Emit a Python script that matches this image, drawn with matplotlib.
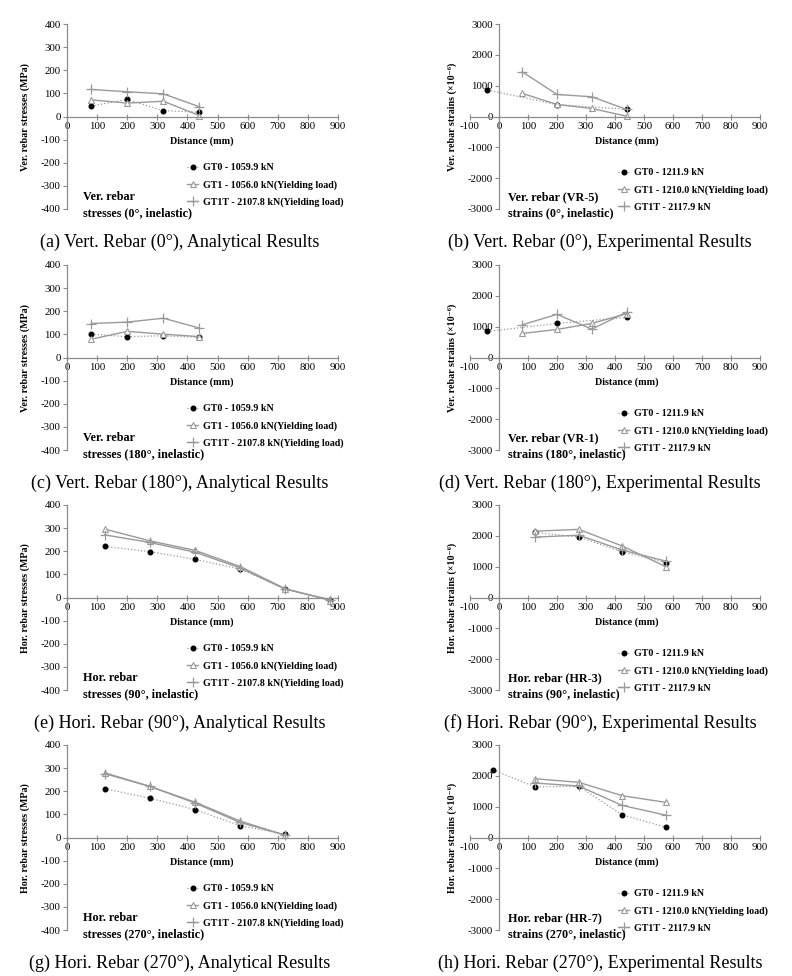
import matplotlib
matplotlib.use('Agg')
import matplotlib.pyplot as plt

plt.rcParams['font.family'] = ['Liberation Serif', 'DejaVu Serif']
plt.rcParams['axes.unicode_minus'] = False

W, H = 792, 976

# ── Data ──────────────────────────────────────────────────────────────────────
# gauge positions along the wall (mm)
vert_x = [80, 200, 320, 440]
hor_x = [125, 275, 425, 575, 725, 875]

# (a) vertical rebar 0°, analytical stresses (MPa)
a_gt0 = [45, 74, 25, 19]
a_gt1 = [72, 58, 66, 4]
a_gt1t = [117, 107, 98, 42]

# (b) vertical rebar VR-5, measured strains (x10^-6)
b_gt0_x = [-40, 200, 440]
b_gt0 = [860, 385, 235]
b_gt1 = [750, 390, 260, 10]
b_gt1t = [1450, 715, 640, 230]

# (c) vertical rebar 180°, analytical stresses (MPa)
c_gt0 = [101, 90, 94, 87]
c_gt1 = [79, 113, 101, 90]
c_gt1t = [147, 153, 170, 127]

# (d) vertical rebar VR-1, measured strains
d_gt0_x = [-40, 200, 440]
d_gt0 = [845, 1105, 1300]
d_gt1 = [780, 910, 1105, 1420]
d_gt1t = [1060, 1400, 920, 1470]

# (e) horizontal rebar 90°, analytical stresses (MPa)
e_gt0 = [221, 198, 165, 123, 36, -9]
e_gt1 = [296, 245, 204, 134, 38, -13]
e_gt1t = [271, 238, 196, 128, 36, -10]

# (f) horizontal rebar HR-3, measured strains
f_x = [125, 275, 425, 575]
f_gt0 = [2110, 1960, 1485, 1130]
f_gt1 = [2150, 2210, 1670, 1000]
f_gt1t = [1960, 2020, 1540, 1180]

# (g) horizontal rebar 270°, analytical stresses (MPa)
g_x = [125, 275, 425, 575, 725]
g_gt0 = [211, 170, 121, 51, 14]
g_gt1 = [280, 221, 153, 71, 10]
g_gt1t = [276, 221, 149, 65, 10]

# (h) horizontal rebar HR-7, measured strains
h_gt0_x = [-20, 125, 275, 425, 575]
h_gt0 = [2190, 1640, 1660, 735, 335]
h_x = [125, 275, 425, 575]
h_gt1 = [1905, 1790, 1355, 1140]
h_gt1t = [1765, 1670, 1040, 725]

ana_labels = ['GT0 - 1059.9 kN', 'GT1 - 1056.0 kN(Yielding load)',
              'GT1T - 2107.8 kN(Yielding load)']
exp_labels = ['GT0 - 1211.9 kN', 'GT1 - 1210.0 kN(Yielding load)',
              'GT1T - 2117.9 kN']

panels = [
    # (col, row, gt0 x, gt0, gt1 x, gt1, gt1t x, gt1t, ylabel, note, caption)
    (0, 0, vert_x, a_gt0, vert_x, a_gt1, vert_x, a_gt1t,
     'Ver. rebar stresses (MPa)', 'Ver. rebar\nstresses (0°, inelastic)',
     '(a) Vert. Rebar (0°), Analytical Results'),
    (1, 0, b_gt0_x, b_gt0, vert_x, b_gt1, vert_x, b_gt1t,
     'Ver. rebar strains (×10⁻⁶)', 'Ver. rebar (VR-5)\nstrains (0°, inelastic)',
     '(b) Vert. Rebar (0°), Experimental Results'),
    (0, 1, vert_x, c_gt0, vert_x, c_gt1, vert_x, c_gt1t,
     'Ver. rebar stresses (MPa)', 'Ver. rebar\nstresses (180°, inelastic)',
     '(c) Vert. Rebar (180°), Analytical Results'),
    (1, 1, d_gt0_x, d_gt0, vert_x, d_gt1, vert_x, d_gt1t,
     'Ver. rebar strains (×10⁻⁶)', 'Ver. rebar (VR-1)\nstrains (180°, inelastic)',
     '(d) Vert. Rebar (180°), Experimental Results'),
    (0, 2, hor_x, e_gt0, hor_x, e_gt1, hor_x, e_gt1t,
     'Hor. rebar stresses (MPa)', 'Hor. rebar\nstresses (90°, inelastic)',
     '(e) Hori. Rebar (90°), Analytical Results'),
    (1, 2, f_x, f_gt0, f_x, f_gt1, f_x, f_gt1t,
     'Hor. rebar strains (×10⁻⁶)', 'Hor. rebar (HR-3)\nstrains (90°, inelastic)',
     '(f) Hori. Rebar (90°), Experimental Results'),
    (0, 3, g_x, g_gt0, g_x, g_gt1, g_x, g_gt1t,
     'Hor. rebar stresses (MPa)', 'Hor. rebar\nstresses (270°, inelastic)',
     '(g) Hori. Rebar (270°), Analytical Results'),
    (1, 3, h_gt0_x, h_gt0, h_x, h_gt1, h_x, h_gt1t,
     'Hor. rebar strains (×10⁻⁶)', 'Hor. rebar (HR-7)\nstrains (270°, inelastic)',
     '(h) Hori. Rebar (270°), Experimental Results'),
]

# ── Layout (pixels) ───────────────────────────────────────────────────────────
ROW_TOP = [24, 265, 505, 745]
AX_H = 185
COL_LEFT = [67, 470]
COL_W = [271, 290]
GREY = '#9a9a9a'
SPINE = '#8c8c8c'


def fx(px):
    return px / W


def fy(py):
    return 1 - py / H


fig = plt.figure(figsize=(W / 100, H / 100), dpi=100)

for col, row, x0, y0, x1, y1, x2, y2, ylab, note, cap in panels:
    top = ROW_TOP[row]
    ax = fig.add_axes([fx(COL_LEFT[col]), fy(top + AX_H),
                       COL_W[col] / W, AX_H / H])
    exp = col == 1
    labels = exp_labels if exp else ana_labels

    ax.plot(x0, y0, color=GREY, ls=':', lw=0.9, marker='o', ms=3.3,
            mfc='black', mec='black', label=labels[0])
    ax.plot(x1, y1, color=GREY, ls='-', lw=1.0, marker='^', ms=4.5,
            mfc='white', mec=GREY, mew=0.8, label=labels[1])
    ax.plot(x2, y2, color=GREY, ls='-', lw=1.0, marker='+', ms=7,
            mec=GREY, mew=0.9, label=labels[2])

    if exp:
        ax.set_xlim(-100, 900)
        ax.set_ylim(-3000, 3000)
        ax.set_xticks(range(-100, 1000, 100))
        ax.set_yticks(range(-3000, 3001, 1000))
    else:
        ax.set_xlim(0, 900)
        ax.set_ylim(-400, 400)
        ax.set_xticks(range(0, 1000, 100))
        ax.set_yticks(range(-400, 401, 100))

    ax.spines['top'].set_visible(False)
    ax.spines['right'].set_visible(False)
    ax.spines['left'].set_position(('data', 0))
    ax.spines['bottom'].set_position(('data', 0))
    for s in ('left', 'bottom'):
        ax.spines[s].set_color(SPINE)
        ax.spines[s].set_linewidth(0.9)
    ax.tick_params(axis='x', direction='inout', length=5, width=0.8,
                   color=SPINE, labelsize=7.8, pad=1.5)
    ax.tick_params(axis='y', direction='out', length=3, width=0.8,
                   color=SPINE, labelsize=7.8, pad=1.5)
    ax.patch.set_alpha(0)

    # axis titles
    xc = 627 if exp else 202
    fig.text(fx(xc), fy(top + 117), 'Distance (mm)', ha='center', va='center',
             fontsize=7.3, fontweight='bold')
    ylx = 452 if exp else 25
    fig.text(fx(ylx), fy(top + 93), ylab, rotation=90, ha='center',
             va='center', fontsize=7.2, fontweight='bold')

    # legend
    lx, ly = (618, top + 144) if exp else (187, top + 139)
    ax.legend(loc='upper left', bbox_to_anchor=(fx(lx), fy(ly)),
              bbox_transform=fig.transFigure, frameon=False, borderpad=0,
              borderaxespad=0, handlelength=1.1, handletextpad=0.5,
              labelspacing=0.8, prop={'size': 7.2, 'weight': 'bold'})

    # note inside plot
    nx = 508 if exp else 83
    fig.text(fx(nx), fy(top + 167), note, ha='left', va='top',
             fontsize=8.7, fontweight='bold', linespacing=1.45)

    # caption
    cx = 600 if exp else 180
    fig.text(fx(cx), fy(top + 218), cap, ha='center', va='center',
             fontsize=13)

fig.savefig('out.png', dpi=100)
